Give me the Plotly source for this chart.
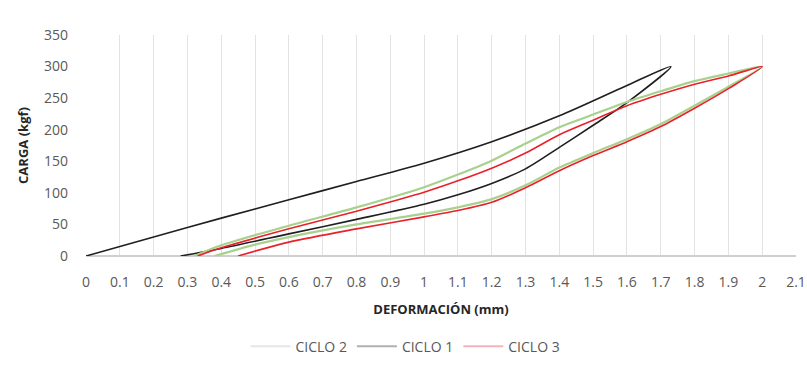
import plotly.graph_objects as go

# CICLO 1 (black): loading curve then unloading back to origin
c1_x = [0.28, 0.4, 0.6, 0.8, 1.0, 1.1, 1.2, 1.3, 1.4, 1.5, 1.6, 1.73,
        1.6, 1.4, 1.2, 1.0, 0.8, 0.6, 0.4, 0.2, 0.0]
c1_y = [0, 12, 35, 58, 82, 97, 115, 138, 172, 207, 243, 300,
        270, 222, 181, 147, 118, 89, 60, 30, 0]

# CICLO 2 (green)
c2_x = [0.38, 0.5, 0.6, 0.8, 1.0, 1.1, 1.2, 1.3, 1.4, 1.5, 1.6, 1.7, 1.8, 1.9, 2.0,
        1.9, 1.8, 1.7, 1.6, 1.5, 1.4, 1.3, 1.2, 1.1, 1.0, 0.8, 0.6, 0.4, 0.32]
c2_y = [0, 18, 30, 50, 67, 77, 90, 112, 140, 163, 185, 209, 238, 268, 300,
        289, 277, 261, 244, 224, 204, 178, 151, 129, 109, 77, 48, 17, 0]

# CICLO 3 (red)
c3_x = [0.45, 0.6, 0.8, 1.0, 1.1, 1.2, 1.3, 1.4, 1.5, 1.6, 1.7, 1.8, 1.9, 2.0,
        1.9, 1.8, 1.7, 1.6, 1.5, 1.4, 1.3, 1.2, 1.1, 1.0, 0.8, 0.6, 0.4, 0.33]
c3_y = [0, 22, 43, 62, 72, 85, 108, 135, 159, 181, 205, 234, 265, 300,
        285, 272, 256, 238, 215, 192, 163, 139, 119, 101, 71, 43, 13, 0]

x_ticks = [round(i * 0.1, 1) for i in range(22)]
x_tick_labels = ["0"] + [f"{v:g}" for v in x_ticks[1:]]
y_ticks = [0, 50, 100, 150, 200, 250, 300, 350]

FONT = "Open Sans, Liberation Sans, sans-serif"
TXT = "#595959"

fig = go.Figure()
fig.add_trace(go.Scatter(x=c1_x, y=c1_y, mode="lines",
                         line=dict(color="#1f1f1f", width=1.6, shape="spline", smoothing=0.8),
                         showlegend=False, hoverinfo="skip"))
fig.add_trace(go.Scatter(x=c2_x, y=c2_y, mode="lines",
                         line=dict(color="#a9d18e", width=2.2, shape="spline", smoothing=0.8),
                         showlegend=False, hoverinfo="skip"))
fig.add_trace(go.Scatter(x=c3_x, y=c3_y, mode="lines",
                         line=dict(color="#e8212b", width=1.6, shape="spline", smoothing=0.8),
                         showlegend=False, hoverinfo="skip"))

# legend entries (as shown, faded)
for name, col in [("CICLO 2", "#e6e6e6"), ("CICLO 1", "#b0b0b0"), ("CICLO 3", "#f4b3c0")]:
    fig.add_trace(go.Scatter(x=[None], y=[None], mode="lines", name=name,
                             line=dict(color=col, width=2)))

fig.update_layout(
    width=807, height=374,
    margin=dict(l=86, r=11, t=35, b=115),
    paper_bgcolor="white", plot_bgcolor="white",
    font=dict(family=FONT, color=TXT, size=13),
    showlegend=True,
    legend=dict(orientation="h", x=0.45, xanchor="center", y=-0.41, yanchor="middle",
                font=dict(size=14, color=TXT), traceorder="normal", itemwidth=40),
)
fig.update_xaxes(
    range=[0, 2.1], tickvals=x_ticks, ticktext=x_tick_labels, automargin=False,
    showgrid=True, gridcolor="#e3e3e3", gridwidth=1,
    showline=False, zeroline=False, ticks="",
    tickfont=dict(size=14, color=TXT), ticklabelstandoff=16,
    title=dict(text="<b>DEFORMACIÓN (mm)</b>", font=dict(size=13, color="#262626"), standoff=14),
)
fig.update_yaxes(
    range=[0, 350], tickvals=y_ticks, automargin=False,
    showgrid=False, zeroline=True, zerolinecolor="#cfcfcf", zerolinewidth=1.5,
    showline=False, ticks="",
    tickfont=dict(size=14, color=TXT), ticklabelstandoff=17,
    title=dict(text="<b>CARGA (kgf)</b>", font=dict(size=13, color="#262626"), standoff=12),
)

fig.write_html("out.html")
